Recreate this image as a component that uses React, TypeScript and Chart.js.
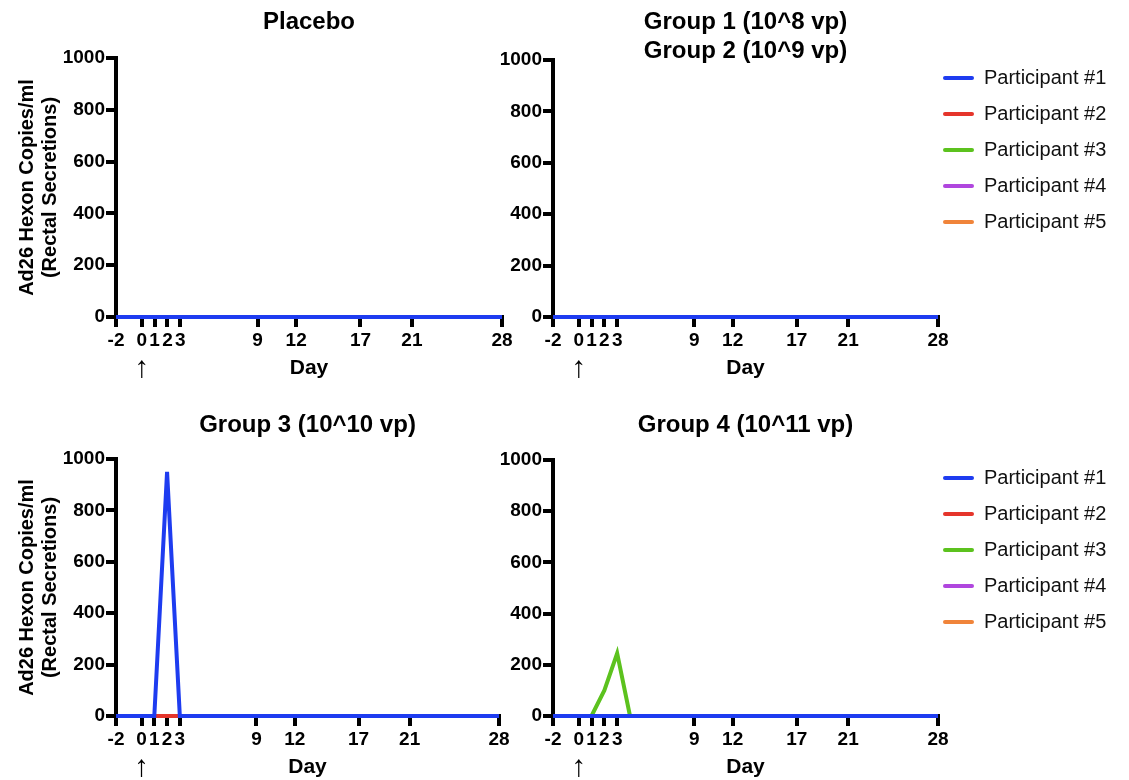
import React, { useEffect, useRef } from "react";
import { Chart, registerables } from "chart.js";

Chart.register(...registerables);

const FONT = '"Liberation Sans", Arial, Helvetica, sans-serif';

// ---- data ----
const days = [-2, 0, 1, 2, 3, 4, 9, 12, 17, 21, 28];
const dayTickValues = [-2, 0, 1, 2, 3, 9, 12, 17, 21, 28];
const yTickValues = [0, 200, 400, 600, 800, 1000];
const participantLabels = [
  "Participant #1",
  "Participant #2",
  "Participant #3",
  "Participant #4",
  "Participant #5",
];
const participantColors = ["#1e3cf0", "#e5352b", "#5cc21e", "#b046de", "#f0843a"];

const allZero = [0, 0, 0, 0, 0, 0, 0, 0, 0, 0, 0];
const group3Participant1 = [0, 0, 0, 950, 0, 0, 0, 0, 0, 0, 0];
const group4Participant3 = [0, 0, 0, 100, 245, 0, 0, 0, 0, 0, 0];

const placeboSeries = [allZero, allZero, allZero, allZero, allZero];
const group12Series = [allZero, allZero, allZero, allZero, allZero];
const group3Series = [group3Participant1, allZero, allZero, allZero, allZero];
const group4Series = [allZero, allZero, group4Participant3, allZero, allZero];

const yAxisTitle = ["Ad26 Hexon Copies/ml", "(Rectal Secretions)"];

// ---- layout ----
const panels = [
  {
    key: "tl", left: 0, top: 0, width: 620, height: 390,
    title: ["Placebo"], titleY: [22], yWidth: 116,
    pad: { top: 58, right: 118, bottom: 9, left: 0 },
    yTitle: true, legend: false, series: placeboSeries,
  },
  {
    key: "tr", left: 440, top: 0, width: 689, height: 390,
    title: ["Group 1 (10^8 vp)", "Group 2 (10^9 vp)"], titleY: [22, 51], yWidth: 113,
    pad: { top: 60, right: 25, bottom: 9, left: 0 },
    yTitle: false, legend: true, series: group12Series,
  },
  {
    key: "bl", left: 0, top: 390, width: 620, height: 390,
    title: ["Group 3 (10^10 vp)"], titleY: [35], yWidth: 116,
    pad: { top: 69, right: 121, bottom: 0, left: 0 },
    yTitle: true, legend: false, series: group3Series,
  },
  {
    key: "br", left: 440, top: 390, width: 689, height: 390,
    title: ["Group 4 (10^11 vp)"], titleY: [35], yWidth: 113,
    pad: { top: 70, right: 25, bottom: 0, left: 0 },
    yTitle: false, legend: true, series: group4Series,
  },
];

function makeDecorPlugin(panel: any) {
  return {
    id: "panelDecor_" + panel.key,
    afterLayout(chart: any) {
      if (panel.legend && chart.legend) {
        const lg = chart.legend;
        // move the legend's start point and widen its clip box
        lg.left -= 11;
        lg.top -= 8;
        lg.right = chart.width;
        lg.width = lg.right - lg.left;
        lg.height = lg.bottom - lg.top;
      }
    },
    afterDraw(chart: any) {
      const { ctx, chartArea, scales } = chart;
      const cx = (chartArea.left + chartArea.right) / 2;
      ctx.save();
      ctx.fillStyle = "#000";
      ctx.textAlign = "center";
      ctx.textBaseline = "middle";
      ctx.font = "bold 24px " + FONT;
      panel.title.forEach((t: string, i: number) => {
        ctx.fillText(t, cx, panel.titleY[i]);
      });
      ctx.font = "30px " + FONT;
      ctx.fillText("\u2191", scales.x.getPixelForValue(0), chartArea.bottom + 52);
      ctx.restore();
    },
  };
}

function Panel({ panel }: { panel: any }) {
  const ref = useRef<HTMLCanvasElement | null>(null);
  useEffect(() => {
    if (!ref.current) return;
    const datasets = panel.series.map((vals: number[], i: number) => ({
      label: participantLabels[i],
      data: days.map((d, j) => ({ x: d, y: vals[j] })),
      borderColor: participantColors[i],
      backgroundColor: participantColors[i],
      borderWidth: 4,
      pointRadius: 0,
      pointHoverRadius: 0,
      tension: 0,
      fill: false,
      clip: false,
    }));
    const tickFont = { family: FONT, size: 19, weight: "bold" as const };
    const chart = new Chart(ref.current, {
      type: "line",
      data: { datasets },
      options: {
        responsive: false,
        maintainAspectRatio: false,
        animation: false,
        devicePixelRatio: 1,
        events: [],
        layout: { padding: panel.pad },
        plugins: {
          title: { display: false },
          tooltip: { enabled: false },
          legend: {
            display: panel.legend,
            position: "right",
            align: "start",
            labels: {
              boxWidth: 31,
              boxHeight: 4,
              padding: 16,
              color: "#111",
              font: { family: FONT, size: 20, weight: "normal" },
              generateLabels: (c: any) =>
                c.data.datasets.map((ds: any, i: number) => ({
                  text: ds.label,
                  fillStyle: ds.borderColor,
                  strokeStyle: ds.borderColor,
                  lineWidth: 0,
                  borderRadius: 2,
                  hidden: false,
                  datasetIndex: i,
                  fontColor: "#111",
                })),
            },
          },
        },
        scales: {
          x: {
            type: "linear",
            min: -2,
            max: 28,
            afterBuildTicks: (s: any) => {
              s.ticks = dayTickValues.map((v) => ({ value: v }));
            },
            afterFit: (s: any) => {
              s.height = 64;
            },
            ticks: {
              autoSkip: false,
              maxRotation: 0,
              minRotation: 0,
              padding: 2,
              color: "#000",
              font: tickFont,
              callback: (v: any) => String(v),
            },
            grid: {
              display: true,
              drawOnChartArea: false,
              drawTicks: true,
              tickLength: 10,
              tickWidth: 4,
              tickColor: "#000",
              color: "#000",
              lineWidth: 4,
            },
            border: { display: true, color: "#000", width: 4 },
            title: {
              display: true,
              text: "Day",
              color: "#000",
              font: { family: FONT, size: 21, weight: "bold" },
              padding: { top: 0, bottom: 0 },
            },
          },
          y: {
            type: "linear",
            min: 0,
            max: 1000,
            afterBuildTicks: (s: any) => {
              s.ticks = yTickValues.map((v) => ({ value: v }));
            },
            afterFit: (s: any) => {
              s.width = panel.yWidth;
            },
            ticks: {
              padding: 1,
              color: "#000",
              font: tickFont,
              callback: (v: any) => String(v),
            },
            grid: {
              display: true,
              drawOnChartArea: false,
              drawTicks: true,
              tickLength: 10,
              tickWidth: 4,
              tickColor: "#000",
              color: "#000",
              lineWidth: 4,
            },
            border: { display: true, color: "#000", width: 4 },
            title: {
              display: panel.yTitle,
              text: yAxisTitle,
              color: "#000",
              font: { family: FONT, size: 20, weight: "bold", lineHeight: 1.15 },
              padding: { top: 16, bottom: 0 },
            },
          },
        },
      },
      plugins: [makeDecorPlugin(panel)],
    } as any);
    return () => chart.destroy();
  }, [panel]);
  return (
    <canvas
      ref={ref}
      width={panel.width}
      height={panel.height}
      style={{
        position: "absolute",
        left: panel.left,
        top: panel.top,
        width: panel.width,
        height: panel.height,
      }}
    />
  );
}

export default function App() {
  return (
    <div
      style={{
        position: "absolute",
        left: 0,
        top: 0,
        width: 1129,
        height: 780,
        background: "#fff",
        overflow: "hidden",
      }}
    >
      {panels.map((p) => (
        <Panel key={p.key} panel={p} />
      ))}
    </div>
  );
}
